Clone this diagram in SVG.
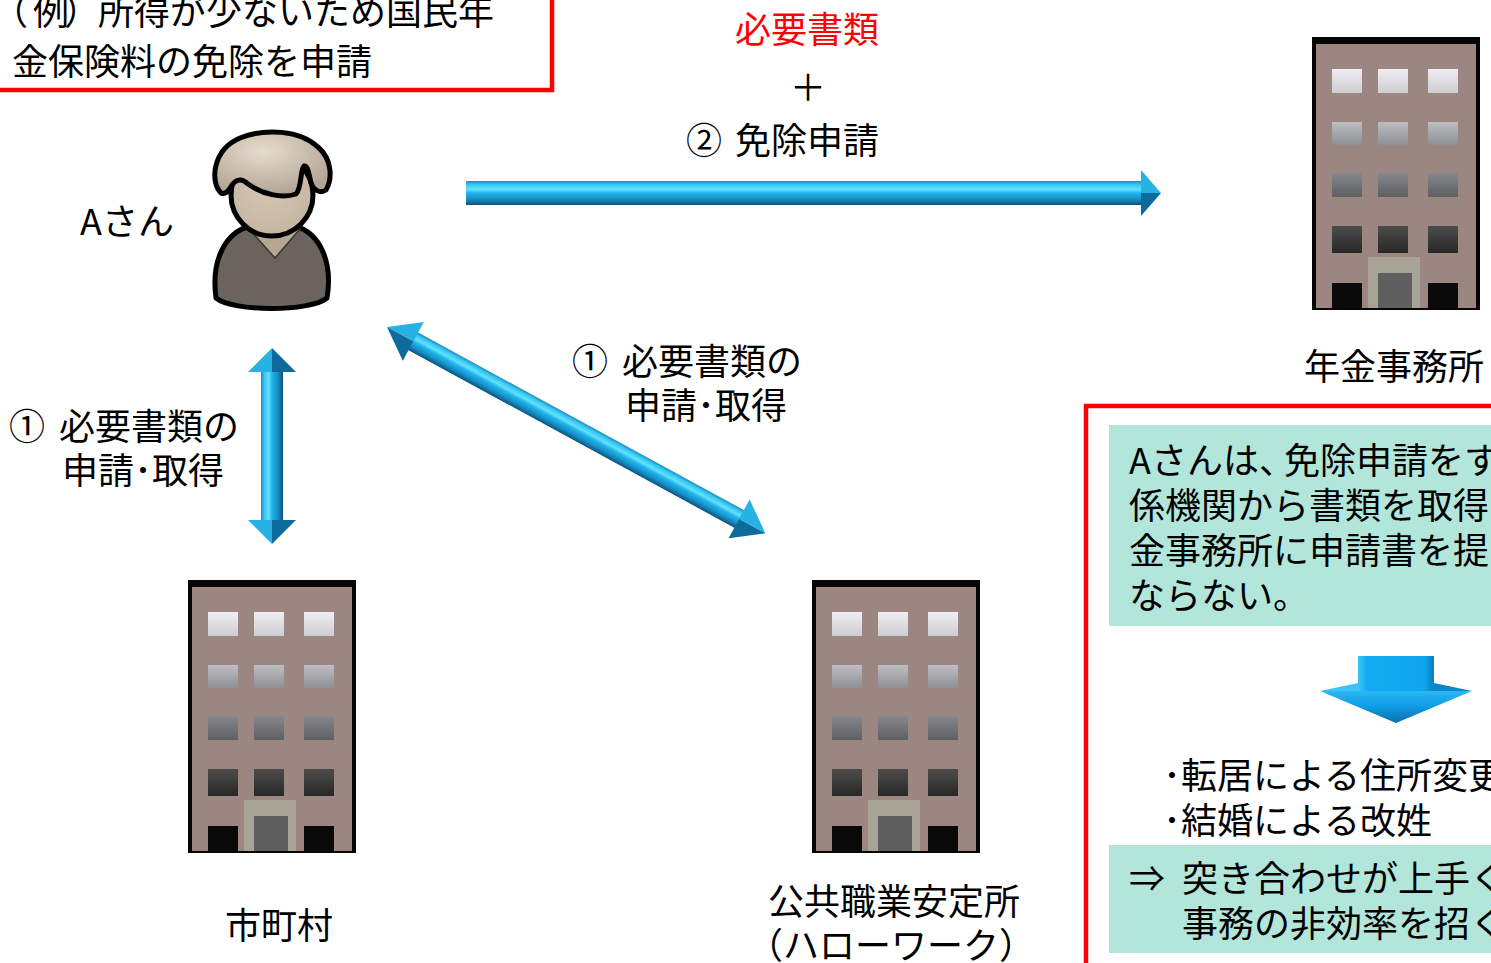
<svg xmlns="http://www.w3.org/2000/svg" xmlns:xlink="http://www.w3.org/1999/xlink" width="1491" height="963" viewBox="0 0 1491 963">
  <style>
    .t { font-family: "Noto Sans CJK JP", "Noto Sans", sans-serif; font-size: 36px; fill: #000; }
    .red { fill: #ff0000; }
    .frame { fill: none; stroke: #ff0000; stroke-width: 4.5; }
    .teal { fill: #b3e6da; }
    .shaft { fill: url(#shaftGrad); }
    .headHi { fill: #27b2e6; }
    .headLo { fill: #0d6b9c; }
  </style>
  <defs>
    <linearGradient id="shaftGrad" x1="0" y1="0" x2="0" y2="1">
      <stop offset="0" stop-color="#1a8cc6"/>
      <stop offset="0.15" stop-color="#38c6f2"/>
      <stop offset="0.35" stop-color="#62e2ff"/>
      <stop offset="0.5" stop-color="#22b4ec"/>
      <stop offset="0.75" stop-color="#1590c8"/>
      <stop offset="0.9" stop-color="#0f6d9e"/>
      <stop offset="1" stop-color="#0b4f75"/>
    </linearGradient>
    <linearGradient id="downShaft" x1="0" y1="0" x2="1" y2="0">
      <stop offset="0" stop-color="#3cc4f8"/>
      <stop offset="0.12" stop-color="#14aaf0"/>
      <stop offset="0.88" stop-color="#0fa4ec"/>
      <stop offset="1" stop-color="#0b7fc0"/>
    </linearGradient>
    <linearGradient id="downHead" x1="0" y1="0" x2="0" y2="1">
      <stop offset="0" stop-color="#2ab8f6"/>
      <stop offset="0.45" stop-color="#109ee6"/>
      <stop offset="1" stop-color="#0a6eae"/>
    </linearGradient>
    <linearGradient id="win1" x1="0" y1="0" x2="0" y2="1">
      <stop offset="0" stop-color="#eeeef2"/>
      <stop offset="1" stop-color="#cdced2"/>
    </linearGradient>
    <linearGradient id="win2" x1="0" y1="0" x2="0" y2="1">
      <stop offset="0" stop-color="#bebec2"/>
      <stop offset="1" stop-color="#8e9094"/>
    </linearGradient>
    <linearGradient id="win3" x1="0" y1="0" x2="0" y2="1">
      <stop offset="0" stop-color="#86878a"/>
      <stop offset="1" stop-color="#5e5f63"/>
    </linearGradient>
    <linearGradient id="win4" x1="0" y1="0" x2="0" y2="1">
      <stop offset="0" stop-color="#4c4c4c"/>
      <stop offset="1" stop-color="#282828"/>
    </linearGradient>
    <radialGradient id="hairGrad" cx="0.42" cy="0.3" r="0.7">
      <stop offset="0" stop-color="#e6dccd"/>
      <stop offset="1" stop-color="#b2a494"/>
    </radialGradient>
    <radialGradient id="faceGrad" cx="0.45" cy="0.4" r="0.7">
      <stop offset="0" stop-color="#d6c8b6"/>
      <stop offset="1" stop-color="#c2b29e"/>
    </radialGradient>

    <!-- office building, 168 x 273 -->
    <g id="building">
      <rect x="0" y="0" width="168" height="273" fill="#060606"/>
      <rect x="4" y="7" width="160" height="264" fill="#9c8682"/>
      <g fill="url(#win1)">
        <rect x="20" y="32" width="30" height="24"/>
        <rect x="66" y="32" width="30" height="24"/>
        <rect x="116" y="32" width="30" height="24"/>
      </g>
      <g fill="url(#win2)">
        <rect x="20" y="85" width="30" height="23"/>
        <rect x="66" y="85" width="30" height="23"/>
        <rect x="116" y="85" width="30" height="23"/>
      </g>
      <g fill="url(#win3)">
        <rect x="20" y="136" width="30" height="24"/>
        <rect x="66" y="136" width="30" height="24"/>
        <rect x="116" y="136" width="30" height="24"/>
      </g>
      <g fill="url(#win4)">
        <rect x="20" y="189" width="30" height="27"/>
        <rect x="66" y="189" width="30" height="27"/>
        <rect x="116" y="189" width="30" height="27"/>
      </g>
      <rect x="56" y="220" width="52" height="51" fill="#a7a396"/>
      <rect x="66" y="236" width="34" height="35" fill="#5f5f5f"/>
      <rect x="20" y="246" width="30" height="25" fill="#0a0a0a"/>
      <rect x="116" y="246" width="30" height="25" fill="#0a0a0a"/>
    </g>
  </defs>

  <rect x="0" y="0" width="1491" height="963" fill="#ffffff"/>

  <!-- connectors -->
  <g id="connectors">
    <!-- A-san to pension office -->
    <g id="arrow-apply">
      <rect class="shaft" x="466" y="181" width="676" height="24"/>
      <polygon class="headHi" points="1141,170 1161,193 1141,193"/>
      <polygon class="headLo" points="1141,193 1161,193 1141,216"/>
    </g>
    <!-- A-san <-> hello work -->
    <g id="arrow-hellowork" transform="translate(387,327) rotate(28.59)">
      <rect class="shaft" x="28" y="-10" width="375" height="20"/>
      <polygon class="headHi" points="0,0 30,-22 30,0"/>
      <polygon class="headLo" points="0,0 30,0 30,22"/>
      <polygon class="headHi" points="431,0 401,-22 401,0"/>
      <polygon class="headLo" points="431,0 401,0 401,22"/>
    </g>
    <!-- A-san <-> city office -->
    <g id="arrow-city" transform="translate(272,544) rotate(-90)">
      <rect class="shaft" x="22" y="-11" width="152" height="22"/>
      <polygon class="headHi" points="0,0 24,-24 24,0"/>
      <polygon class="headLo" points="0,0 24,0 24,24"/>
      <polygon class="headHi" points="196,0 172,-24 172,0"/>
      <polygon class="headLo" points="196,0 172,0 172,24"/>
    </g>
  </g>

  <!-- example caption -->
  <g id="example">
    <rect x="-5" y="-5" width="557" height="95" fill="#ffffff" class="frame"/>
    <text class="t" x="-8 33 64 98" y="25">（例）所得が少ないため国民年</text>
    <text class="t" x="12" y="75">金保険料の免除を申請</text>
  </g>

  <!-- applicant -->
  <g id="person-a">
    <text class="t" x="80" y="235">Aさん</text>
    <path d="M216,298 C211,262 224,233 250,226 L295,226 C320,233 333,262 327,298 C310,312 233,312 216,298 Z" fill="#6b645d" stroke="#000" stroke-width="5"/>
    <path d="M249,229 L275,258 L300,229 Z" fill="#b5a794" stroke="#3a3530" stroke-width="1.5"/>
    <circle cx="272" cy="195" r="41" fill="url(#faceGrad)" stroke="#000" stroke-width="5"/>
    <path d="M221,193 C210,182 212,150 240,138 C265,128 300,130 318,147 C333,160 332,180 326,190 C320,194 313,190 311,183 C309,175 308,165 304,166 C300,170 302,188 296,194 C282,199 262,194 248,184 C243,179 237,178 232,185 C228,192 225,195 221,193 Z" fill="url(#hairGrad)" stroke="#000" stroke-width="5" stroke-linejoin="round"/>
  </g>

  <!-- label on the application arrow -->
  <g id="label-apply">
    <text class="t red" x="807" y="43" text-anchor="middle">必要書類</text>
    <text class="t" x="808" y="101" text-anchor="middle">＋</text>
    <text class="t" x="686" y="154">② <tspan x="735">免除申請</tspan></text>
  </g>

  <g id="label-hellowork">
    <text class="t" x="572" y="375">① <tspan x="622">必要書類の</tspan></text>
    <text class="t" x="625" y="419">申請･取得</text>
  </g>

  <g id="label-city">
    <text class="t" x="9" y="440">① <tspan x="59">必要書類の</tspan></text>
    <text class="t" x="62" y="484">申請･取得</text>
  </g>

  <!-- pension office -->
  <g id="pension-office">
    <use xlink:href="#building" x="1312" y="37"/>
    <text class="t" x="1304" y="380">年金事務所</text>
  </g>

  <!-- city office -->
  <g id="city-office">
    <use xlink:href="#building" x="188" y="580"/>
    <text class="t" x="225" y="939">市町村</text>
  </g>

  <!-- public employment security office -->
  <g id="hello-work">
    <use xlink:href="#building" x="812" y="580"/>
    <text class="t" x="768" y="915">公共職業安定所</text>
    <text class="t" x="747" y="959">（ハローワーク）</text>
  </g>

  <!-- problem summary -->
  <g id="summary">
    <rect x="1086" y="406" width="430" height="580" class="frame"/>
    <rect class="teal" x="1109" y="425" width="400" height="201"/>
    <text class="t" x="1129" y="474">Aさんは、<tspan x="1284">免除申請をす</tspan></text>
    <text class="t" x="1129" y="519">係機関から書類を取得</text>
    <text class="t" x="1129" y="564">金事務所に申請書を提</text>
    <text class="t" x="1129" y="609">ならない。</text>

    <g id="arrow-down">
      <rect x="1358" y="656" width="76" height="36" fill="url(#downShaft)"/>
      <polygon points="1320,691 1472,691 1396,723" fill="url(#downHead)"/>
      <polygon points="1320,691 1358,683 1358,691" fill="#3cc4f8"/>
      <polygon points="1472,691 1434,683 1434,691" fill="#0b86c8"/>
    </g>

    <text class="t" x="1163" y="789">･転居による住所変更</text>
    <text class="t" x="1163" y="834">･結婚による改姓</text>

    <rect class="teal" x="1109" y="845" width="400" height="108"/>
    <text class="t" x="1147" y="892" text-anchor="middle">⇒</text>
    <text class="t" x="1182" y="892">突き合わせが上手く</text>
    <text class="t" x="1182" y="937">事務の非効率を招く</text>
  </g>
</svg>
